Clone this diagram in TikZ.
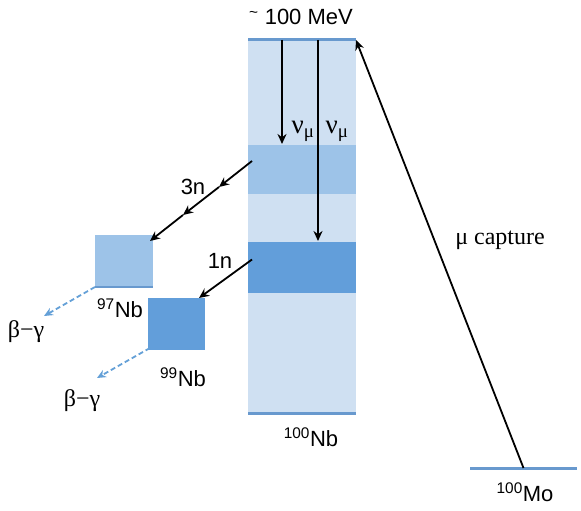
\documentclass[tikz,border=0pt]{standalone}
\usepackage{fontspec}
\setmainfont{Liberation Serif}
\setsansfont{Liberation Sans}
\usetikzlibrary{calc,arrows.meta}
\definecolor{levbg}{RGB}{207,224,242}
\definecolor{levlight}{RGB}{157,195,232}
\definecolor{levdark}{RGB}{98,158,218}
\definecolor{levline}{RGB}{104,153,206}
\definecolor{decay}{RGB}{100,160,215}
\tikzset{
  lev/.style={inner sep=0pt,outer sep=0pt,anchor=north west},
  trans/.style={-{Stealth[length=10pt,width=9pt]},line width=1.8pt},
  betagam/.style={-{Stealth[length=9pt,width=8pt]},dash pattern=on 5pt off 3pt,decay,line width=1.8pt},
  sflab/.style={font=\sffamily\fontsize{22}{25}\selectfont},
  rmlab/.style={font=\rmfamily\fontsize{24}{27}\selectfont}
}
\begin{document}
\begin{tikzpicture}[x=1pt,y=-1pt,line join=round]
	\useasboundingbox (0,0) rectangle (581,511);
	% levels of 100Nb
	\node[lev,fill=levbg,minimum width=108pt,minimum height=375pt] (nb100) at (248,40) {};
	\node[lev,fill=levlight,minimum width=108pt,minimum height=49pt] (b3n) at (248,145) {};
	\node[lev,fill=levdark,minimum width=108pt,minimum height=51pt] (b1n) at (248,242) {};
	\draw[levline,line width=3pt] (nb100.north west)--(nb100.north east);
	\draw[levline,line width=3pt] ($(nb100.south west)+(0,-2)$)--($(nb100.south east)+(0,-2)$);
	% daughters
	\node[lev,fill=levlight,minimum width=58pt,minimum height=53pt] (nb97) at (95,235) {};
	\node[lev,fill=levdark,minimum width=57pt,minimum height=52pt] (nb99) at (148,298) {};
	\draw[levline,line width=2pt] ($(nb97.south west)+(0,-1)$)--($(nb97.south east)+(0,-1)$);
	\node[fill=levline,inner sep=0pt,minimum width=107pt,minimum height=3pt] (mo) at (523.5,468) {};
	% neutrino excitation
	\draw[trans] ($(nb100.north west)+(34,0)$)--($(b3n.north west)+(34,-1)$);
	\draw[trans] ($(nb100.north west)+(70,0)$)--($(b1n.north west)+(70,-1)$);
	\node[rmlab,font=\rmfamily\fontsize{27}{30}\selectfont] (nu1) at (303,131) {ν\textsubscript{μ}};
	\node[rmlab,font=\rmfamily\fontsize{27}{30}\selectfont] (nu2) at (337,131) {ν\textsubscript{μ}};
	% neutron emission
	\coordinate (s3) at ($(b3n.west)+(4,-8.5)$);
	\coordinate (e3a) at (219,187);
	\coordinate (e3b) at (183,215);
	\coordinate (e3c) at ($(nb97.north east)+(-3,6)$);
	\draw[trans] (s3)--(e3a);
	\draw[trans] (e3a)--(e3b);
	\draw[trans] (e3b)--(e3c);
	\coordinate (s1) at ($(b1n.west)+(4,-8)$);
	\coordinate (e1) at ($(nb99.north east)+(-6,0)$);
	\draw[trans] (s1)--(e1);
	\node[sflab] (l3n) at (193,187) {3n};
	\node[sflab] (l1n) at (220,261) {1n};
	% beta-gamma decays
	\node[rmlab] (bg97) at (26,332) {β−γ};
	\node[rmlab] (bg99) at (82,401) {β−γ};
	\coordinate (t97) at (44,316);
	\coordinate (t99) at (97,378);
	\draw[betagam] ($(nb97.south west)+(0,-1)$)--(t97);
	\draw[betagam] ($(nb99.south west)+(2,-2)$)--(t99);
	% muon capture
	\draw[trans] (mo.center)--(nb100.north east);
	\node[rmlab] (muc) at (500,240) {μ capture};
	% labels
	\node[sflab] (mev) at (301,17) {\textsuperscript{\textasciitilde} 100 MeV};
	\node[sflab] (l97) at (120,308) {\textsuperscript{97}Nb};
	\node[sflab] (l99) at (183,377) {\textsuperscript{99}Nb};
	\node[sflab] (l100) at (311,437) {\textsuperscript{100}Nb};
	\node[sflab] (l100mo) at (525,492) {\textsuperscript{100}Mo};
\end{tikzpicture}
\end{document}
